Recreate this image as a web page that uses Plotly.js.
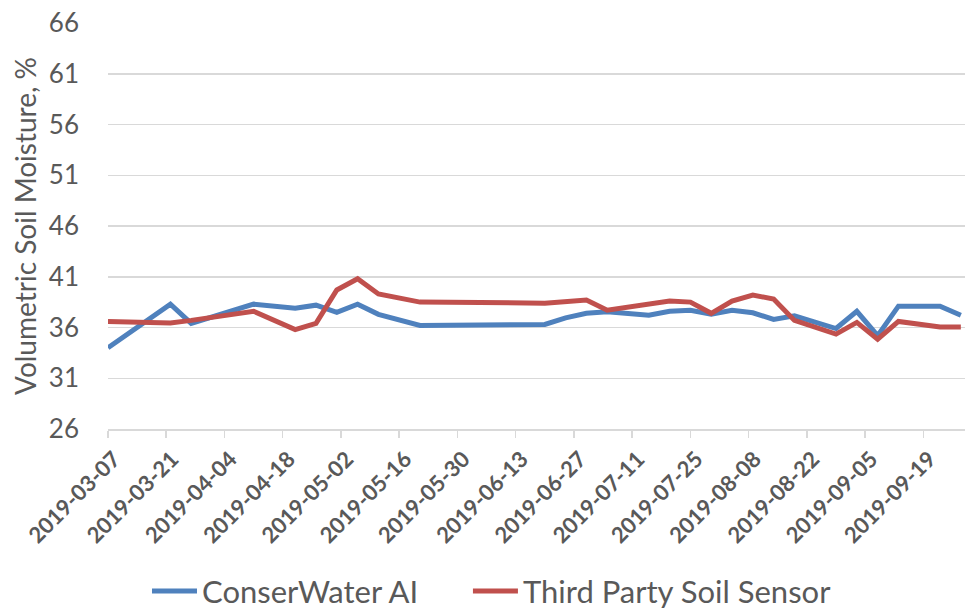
<!DOCTYPE html>
<html>
<head>
<meta charset="utf-8">
<script src="https://cdn.plot.ly/plotly-3.0.1.min.js"></script>
<style>html,body{margin:0;padding:0;background:#fff;}#chart{width:970px;height:610px;}</style>
</head>
<body>
<div id="chart"></div>
<script>
const dates = ['2019-03-07','2019-03-22','2019-03-27','2019-04-11','2019-04-21','2019-04-26','2019-05-01','2019-05-06','2019-05-11','2019-05-21','2019-06-20','2019-06-25','2019-06-30','2019-07-05','2019-07-15','2019-07-20','2019-07-25','2019-07-30','2019-08-04','2019-08-09','2019-08-14','2019-08-19','2019-08-29','2019-09-03','2019-09-08','2019-09-13','2019-09-23','2019-09-28'];
const conserWater = [34.0,38.3,36.4,38.3,37.9,38.2,37.5,38.3,37.3,36.2,36.3,36.95,37.4,37.55,37.2,37.6,37.7,37.3,37.7,37.45,36.8,37.15,35.9,37.6,35.2,38.1,38.1,37.2];
const thirdParty = [36.6,36.45,36.7,37.6,35.8,36.4,39.7,40.8,39.3,38.5,38.4,38.6,38.7,37.7,38.3,38.6,38.5,37.4,38.6,39.2,38.8,36.7,35.35,36.5,34.85,36.6,36.05,36.05];
const seriesNames = ['ConserWater AI','Third Party Soil Sensor'];
const yTitle = 'Volumetric Soil Moisture, %';

const FONT = 'Lato, "Open Sans", sans-serif';
const legendFont = {size: 31, color: '#595959', family: FONT};
const traces = [
  {x: dates, y: conserWater, name: seriesNames[0], type: 'scatter', mode: 'lines',
   line: {color: '#4F81BD', width: 5}, legend: 'legend'},
  {x: dates, y: thirdParty, name: seriesNames[1], type: 'scatter', mode: 'lines',
   line: {color: '#C0504D', width: 5}, legend: 'legend2'}
];
const layout = {
  width: 970, height: 610,
  margin: {l: 108, r: 5, t: 23, b: 181, autoexpand: false},
  paper_bgcolor: '#fff', plot_bgcolor: '#fff',
  font: {family: FONT, color: '#595959'},
  showlegend: true,
  legend: {orientation: 'h', x: 0.0455, xanchor: 'left', y: -0.40, yanchor: 'middle',
    font: legendFont, itemwidth: 45, bgcolor: 'rgba(0,0,0,0)'},
  legend2: {orientation: 'h', x: 0.42, xanchor: 'left', y: -0.40, yanchor: 'middle',
    font: legendFont, itemwidth: 45, bgcolor: 'rgba(0,0,0,0)'},
  xaxis: {
    type: 'date', range: ['2019-03-07', '2019-09-29'],
    tick0: '2019-03-07', dtick: 14 * 86400000, tickformat: '%Y-%m-%d',
    tickangle: -45, tickfont: {size: 22, color: '#595959', family: FONT, weight: 'bold'},
    ticklabelshift: 6,
    showgrid: false, zeroline: false, showline: true, linecolor: '#D9D9D9', linewidth: 1.5,
    ticks: 'outside', ticklen: 7, tickcolor: '#D9D9D9', tickwidth: 1.5, automargin: false
  },
  yaxis: {
    range: [26, 66], tick0: 26, dtick: 5,
    tickfont: {size: 26, color: '#595959', family: FONT},
    showgrid: true, gridcolor: '#D9D9D9', gridwidth: 1.5, zeroline: false, showline: false,
    ticks: '', ticklabelstandoff: 28, automargin: false,
    title: {text: yTitle, font: {size: 28, color: '#595959', family: FONT}, standoff: 4}
  }
};
Plotly.newPlot('chart', traces, layout, {displayModeBar: false, staticPlot: true});
</script>
</body>
</html>
